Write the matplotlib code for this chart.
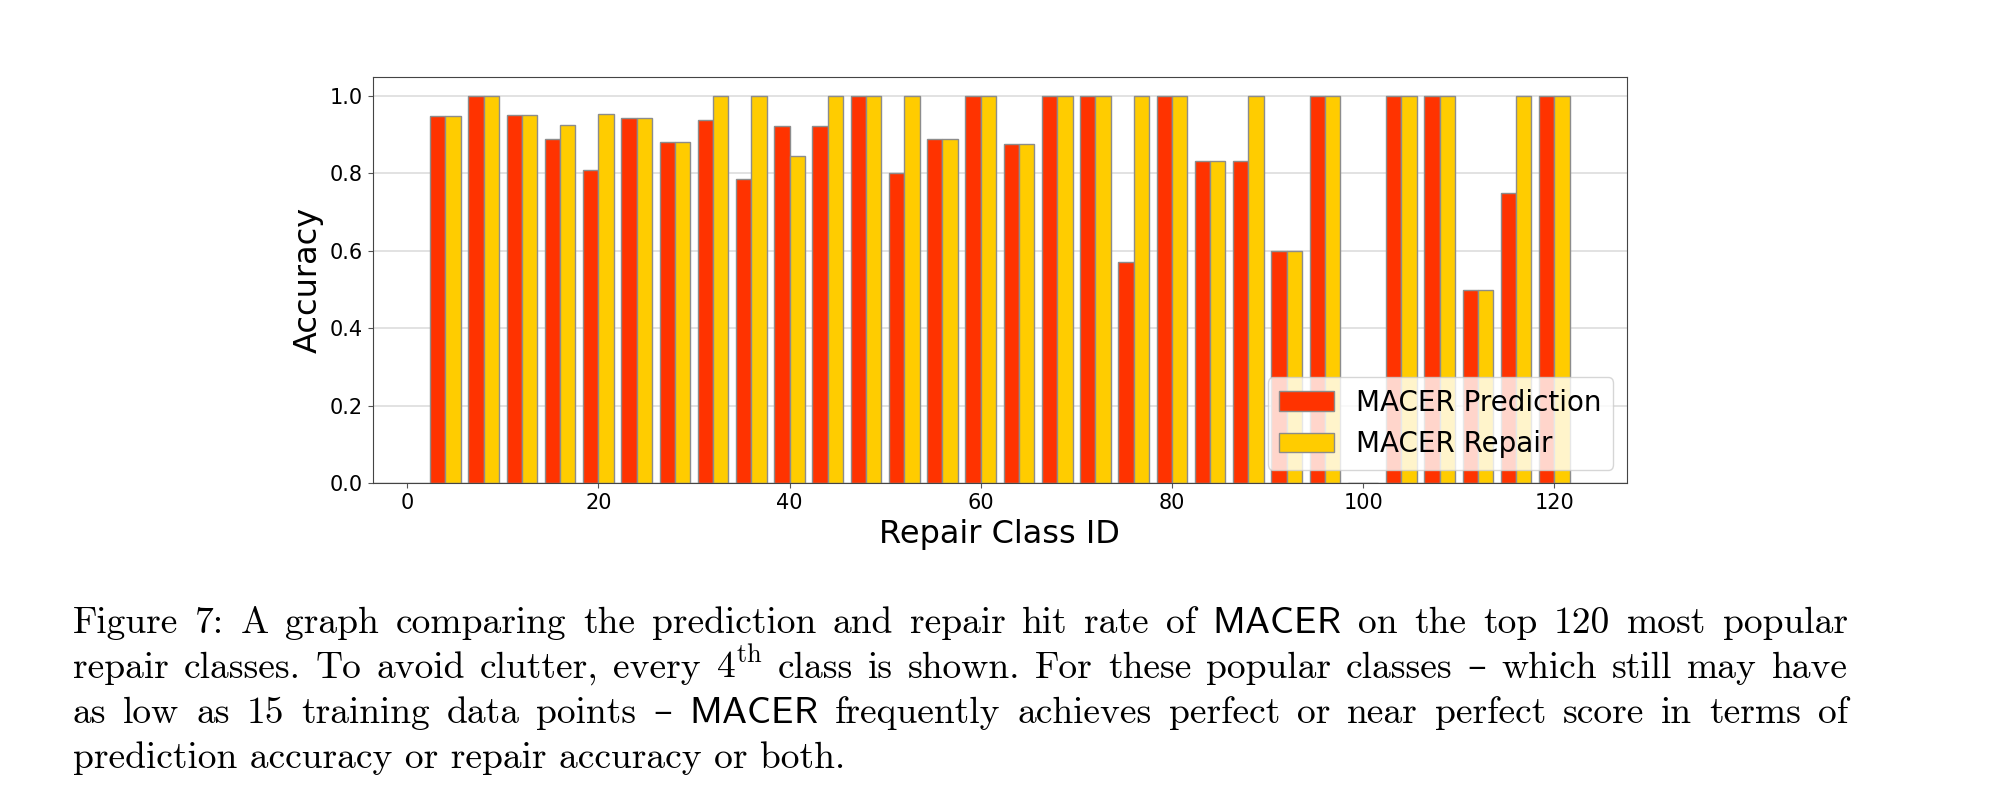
import matplotlib
matplotlib.use('Agg')
import matplotlib.pyplot as plt
import numpy as np

# every 4th repair class
class_ids = [4, 8, 12, 16, 20, 24, 28, 32, 36, 40, 44, 48, 52, 56, 60,
             64, 68, 72, 76, 80, 84, 88, 92, 96, 100, 104, 108, 112, 116, 120]
pred_acc = [0.947, 1.0, 0.95, 0.889, 0.81, 0.944, 0.882, 0.9375, 0.786, 0.923,
            0.923, 1.0, 0.8, 0.889, 1.0, 0.875, 1.0, 1.0, 0.571, 1.0,
            0.833, 0.833, 0.6, 1.0, 0.0, 1.0, 1.0, 0.5, 0.75, 1.0]
repair_acc = [0.947, 1.0, 0.95, 0.926, 0.952, 0.944, 0.882, 1.0, 1.0, 0.846,
              1.0, 1.0, 1.0, 0.889, 1.0, 0.875, 1.0, 1.0, 1.0, 1.0,
              0.833, 1.0, 0.6, 1.0, 0.0, 1.0, 1.0, 0.5, 1.0, 1.0]
labels = ["MACER Prediction", "MACER Repair"]

# caption lines (as typeset under the figure)
caption = [
    "Figure 7: A graph comparing the prediction and repair hit rate of $\\mathsf{MACER}$ on the top 120 most popular",
    "repair classes. To avoid clutter, every 4$^{\\mathrm{th}}$ class is shown. For these popular classes \u2013 which still may have",
    "as low as 15 training data points \u2013 $\\mathsf{MACER}$ frequently achieves perfect or near perfect score in terms of",
    "prediction accuracy or repair accuracy or both.",
]

W, H = 1991, 786
plt.rcParams['mathtext.fontset'] = 'cm'
fig = plt.figure(figsize=(W / 100, H / 100), dpi=100)
ax = fig.add_axes([372.7 / W, 1 - 483.5 / H, (1627 - 372.7) / W, (483.5 - 76.5) / H])

x = np.array(class_ids)
w = 1.6
ax.bar(x - w / 2, pred_acc, w, color='#ff3300', edgecolor='#8c8c8c', linewidth=1, label=labels[0])
ax.bar(x + w / 2, repair_acc, w, color='#ffcc00', edgecolor='#8c8c8c', linewidth=1, label=labels[1])

ax.set_xlim(-3.6, 127.6)
ax.set_ylim(0, 1.05)
ax.set_xticks([0, 20, 40, 60, 80, 100, 120])
ax.set_yticks([0.0, 0.2, 0.4, 0.6, 0.8, 1.0])
ax.set_yticklabels(["%.1f" % t for t in ax.get_yticks()])
ax.tick_params(labelsize=15, color='#555555')
ax.set_axisbelow(True)
ax.yaxis.grid(True, color='#dddddd', linewidth=1.2)
for s in ax.spines.values():
    s.set_color('#444444')
ax.set_xlabel("Repair Class ID", fontsize=23)
ax.set_ylabel("Accuracy", fontsize=23)
ax.legend(loc='lower right', fontsize=20)

# caption, justified like the latex block
x0, x1 = 72.7, 1848
baselines = [632.7, 678, 723, 768]
fam = ['cmr10', 'DejaVu Serif']
renderer = fig.canvas.get_renderer()
for i, line in enumerate(caption):
    y = 1 - baselines[i] / H
    if i == len(caption) - 1:
        fig.text(x0 / W, y, line, fontsize=27, family=fam, va='baseline')
        continue
    words = line.split(" ")
    texts = [fig.text(0, y, wd, fontsize=27, family=fam, va='baseline') for wd in words]
    widths = [t.get_window_extent(renderer).width for t in texts]
    gap = (x1 - x0 - sum(widths)) / (len(words) - 1)
    pos = x0
    for t, wd in zip(texts, widths):
        t.set_x(pos / W)
        pos += wd + gap

fig.savefig("out.png", dpi=100)
